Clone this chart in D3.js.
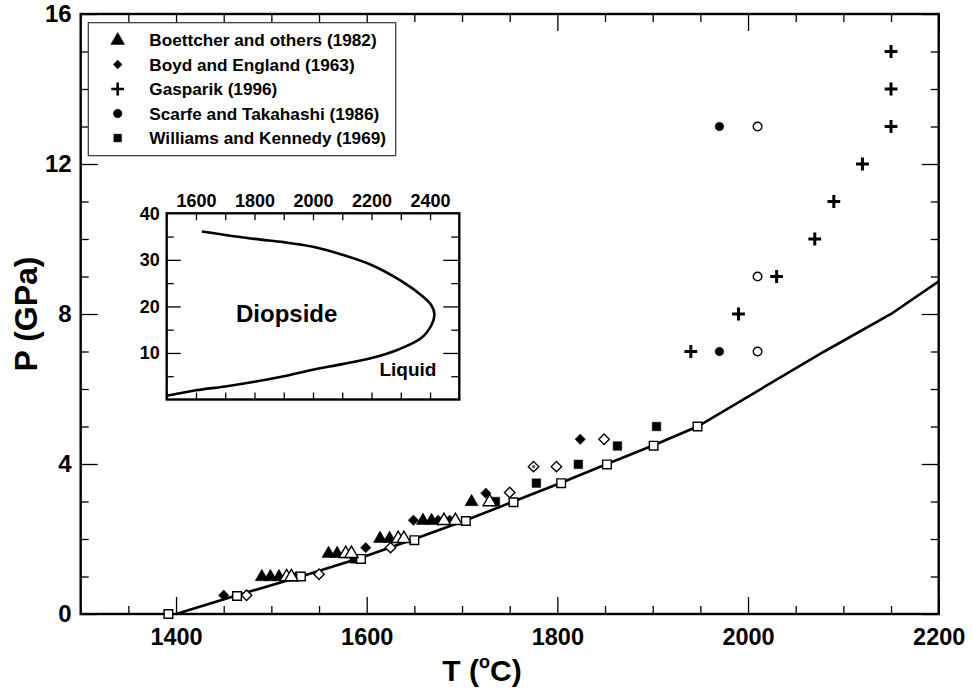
<!DOCTYPE html>
<html>
<head>
<meta charset="utf-8">
<script src="https://cdn.jsdelivr.net/npm/d3@7"></script>
<style>
  body { margin: 0; background: #fff; }
  text { font-family: "Liberation Sans", Arial, Helvetica, sans-serif; font-weight: bold; fill: #000; }
</style>
</head>
<body>
<svg width="972" height="688"></svg>
<script>
// melting curve of diopside (T in deg C, P in GPa)
const meltCurve = [[1400,0],[1464,0.5],[1531,1.0],[1594,1.5],[1650,2.0],[1704,2.5],[1754,3.0],
  [1804,3.5],[1852,4.0],[1901,4.5],[1947,5.0],[2080,7.0],[2150,8.0],[2200,8.87]];

// experiments: filled = crystals, open = liquid
const boettcherSolid = [[1490,1.0],[1499,1.0],[1508,1.0],[1560,1.62],[1569,1.62],[1614,2.02],[1624,2.02],
  [1659,2.5],[1668,2.5],[1710,3.0]];
const boettcherLiquid = [[1516,1.0],[1521,1.0],[1578,1.62],[1584,1.62],[1633,2.02],[1639,2.02],
  [1681,2.5],[1693,2.5],[1729,3.0]];
const boydSolid = [[1450,0.5],[1526,1.0],[1599,1.77],[1649,2.5],[1675,2.5],[1687,2.5],[1725,3.22],[1824,4.66]];
const boydLiquid = [[1474,0.5],[1550,1.06],[1625,1.77],[1750,3.24],[1799,3.93],[1849,4.66]];
const boydMixed = [[1775,3.93]];
const gasparik = [[1940,7],[1990,8],[2030,9],[2070,10],[2090,11],[2120,12],[2150,13],[2150,14],[2150,15]];
const scarfeSolid = [[1970,13],[1970,7]];
const scarfeLiquid = [[2010,13],[2010,9],[2010,7]];
const williamsSolid = [[1587,1.47],[1735,3.0],[1778,3.49],[1822,3.99],[1863,4.48],[1904,5.0]];
const williamsLiquid = [[1392,0],[1464,0.48],[1531,1.0],[1594,1.47],[1650,1.97],[1704,2.48],[1754,2.98],
  [1804,3.49],[1852,3.99],[1901,4.49],[1947,5.0]];

// inset: full melting curve
const insetCurve = [[1500,0.8],[1600,2.0],[1700,2.8],[1800,3.8],[1900,5.0],[2000,6.4],[2100,7.6],[2200,8.9],
  [2290,10.7],[2370,13.2],[2405,16.0],[2415,18.3],[2405,20.2],[2370,22.4],[2290,25.9],[2200,28.9],
  [2100,31.1],[2000,32.8],[1900,33.8],[1800,34.5],[1620,36.1]];

const legendLabels = ["Boettcher and others (1982)", "Boyd and England (1963)", "Gasparik (1996)",
  "Scarfe and Takahashi (1986)", "Williams and Kennedy (1969)"];
const xTicks = [1400, 1600, 1800, 2000, 2200];
const yTicks = [0, 4, 8, 12, 16];
const insetXTicks = [1600, 1800, 2000, 2200, 2400];
const insetYTicks = [10, 20, 30, 40];

const svg = d3.select("svg");
const x = d3.scaleLinear([1300, 2200], [80.7, 938.7]);
const y = d3.scaleLinear([0, 16], [614, 14]);

// symbol shapes
const shapes = {
  triangle: "M0,-7.2L6.6,4.2L-6.6,4.2Z",
  diamond: "M0,-5.2L5.2,0L0,5.2L-5.2,0Z",
  square: "M-4.3,-4.3H4.3V4.3H-4.3Z",
  plus: "M-6.4,0H6.4M0,-6.4V6.4",
  circle: d3.symbol(d3.symbolCircle, 58)()
};

function drawPoints(data, shape, filled, scaleFactor = 1) {
  svg.append("g")
    .selectAll("path")
    .data(data)
    .join("path")
    .attr("transform", d => `translate(${x(d[0])},${y(d[1])}) scale(${scaleFactor})`)
    .attr("d", shapes[shape])
    .attr("fill", shape === "plus" ? "none" : (filled ? "#000" : "#fff"))
    .attr("stroke", "#000")
    .attr("stroke-width", shape === "plus" ? 3 : (filled ? 0.5 : 1.4));
}

// ticks
function minorRange(a, b, step, majors) {
  return d3.range(a, b + 0.001, step).filter(v => !majors.includes(v));
}
const xMinor = minorRange(1300, 2200, 50, [1300, 1400, 1600, 1800, 2000, 2200]);
const yMinor = minorRange(0, 16, 1, [0, 4, 8, 12, 16]);

svg.append("g").attr("transform", "translate(0,614)")
  .call(d3.axisBottom(x).tickValues(xMinor).tickSize(-8).tickFormat(""));
svg.append("g").attr("transform", "translate(0,614)")
  .call(d3.axisBottom(x).tickValues(xTicks).tickSize(-17).tickPadding(14).tickFormat(d3.format("d")))
  .call(g => g.selectAll("text").attr("font-size", 23.5));
svg.append("g").attr("transform", "translate(0,14)")
  .call(d3.axisTop(x).tickValues(xMinor).tickSize(-8).tickFormat(""));
svg.append("g").attr("transform", "translate(0,14)")
  .call(d3.axisTop(x).tickValues(xTicks).tickSize(-17).tickFormat(""));

svg.append("g").attr("transform", "translate(80.7,0)")
  .call(d3.axisLeft(y).tickValues(yMinor).tickSize(-8).tickFormat(""));
svg.append("g").attr("transform", "translate(80.7,0)")
  .call(d3.axisLeft(y).tickValues(yTicks).tickSize(-17).tickPadding(9))
  .call(g => g.selectAll("text").attr("font-size", 24));
svg.append("g").attr("transform", "translate(938.7,0)")
  .call(d3.axisRight(y).tickValues(yMinor).tickSize(-8).tickFormat(""));
svg.append("g").attr("transform", "translate(938.7,0)")
  .call(d3.axisRight(y).tickValues(yTicks).tickSize(-17).tickFormat(""));

svg.selectAll(".domain").remove();
svg.selectAll(".tick line").attr("stroke", "#000").attr("stroke-width", 1.3);
svg.selectAll(".tick text").attr("fill", "#000").style("font-family", null);

svg.append("rect")
  .attr("x", x(1300)).attr("y", y(16))
  .attr("width", x(2200) - x(1300)).attr("height", y(0) - y(16))
  .attr("fill", "none").attr("stroke", "#000").attr("stroke-width", 2.4);

// melting curve
svg.append("path")
  .datum(meltCurve)
  .attr("d", d3.line(d => x(d[0]), d => y(d[1])))
  .attr("fill", "none").attr("stroke", "#000").attr("stroke-width", 2.6);

// data points
drawPoints(boydSolid, "diamond", true);
drawPoints(boydLiquid, "diamond", false);
drawPoints(boydMixed, "diamond", false);
svg.append("g").selectAll("circle").data(boydMixed).join("circle")
  .attr("cx", d => x(d[0])).attr("cy", d => y(d[1])).attr("r", 1.6).attr("fill", "#555");
drawPoints(williamsSolid, "square", true);
drawPoints(williamsLiquid, "square", false);
drawPoints(boettcherSolid, "triangle", true);
drawPoints(boettcherLiquid, "triangle", false);
drawPoints(gasparik, "plus", true);
drawPoints(scarfeSolid, "circle", true);
drawPoints(scarfeLiquid, "circle", false);

// axis titles
svg.append("text")
  .attr("x", 482).attr("y", 681)
  .attr("text-anchor", "middle").attr("font-size", 30)
  .call(t => {
    t.append("tspan").text("T (");
    t.append("tspan").attr("font-size", 18).attr("dy", -13).text("o");
    t.append("tspan").attr("dy", 13).text("C)");
  });
svg.append("text")
  .attr("transform", "translate(37,314) rotate(-90)")
  .attr("text-anchor", "middle").attr("font-size", 32)
  .text("P (GPa)");

// legend
const legendShapes = [["triangle", 1.05], ["diamond", 0.85], ["plus", 1], ["circle", 1], ["square", 0.9]];
const legend = svg.append("g");
legend.append("rect")
  .attr("x", 88.3).attr("y", 22.7).attr("width", 307.4).attr("height", 133)
  .attr("fill", "#fff").attr("stroke", "#333").attr("stroke-width", 1.2);
const rows = legend.selectAll("g.row")
  .data(legendLabels)
  .join("g")
  .attr("class", "row")
  .attr("transform", (d, i) => `translate(0,${40 + i * 24.5})`);
rows.append("path")
  .attr("transform", (d, i) => `translate(117.7,0) scale(${legendShapes[i][1]})`)
  .attr("d", (d, i) => shapes[legendShapes[i][0]])
  .attr("fill", (d, i) => legendShapes[i][0] === "plus" ? "none" : "#000")
  .attr("stroke", "#000")
  .attr("stroke-width", (d, i) => legendShapes[i][0] === "plus" ? 2.6 : 0.5);
rows.append("text")
  .attr("x", 149.3).attr("dy", "0.36em")
  .attr("font-size", 17.2)
  .text(d => d);

// inset
const ix = d3.scaleLinear([1500, 2500], [166.7, 459.3]);
const iy = d3.scaleLinear([0, 40], [399.5, 213.3]);
const inset = svg.append("g");
inset.append("rect")
  .attr("x", ix(1500)).attr("y", iy(40))
  .attr("width", ix(2500) - ix(1500)).attr("height", iy(0) - iy(40))
  .attr("fill", "#fff");

const ixMinor = d3.range(1600, 2401, 100);
const iyMinor = [5, 15, 25, 35];
inset.append("g").attr("transform", `translate(0,${iy(40)})`)
  .call(d3.axisTop(ix).tickValues(ixMinor).tickSize(-7).tickFormat(""));
inset.append("g").attr("transform", `translate(0,${iy(40)})`)
  .call(d3.axisTop(ix).tickValues(insetXTicks).tickSize(0).tickPadding(6).tickFormat(d3.format("d")))
  .call(g => g.selectAll("text").attr("font-size", 18));
inset.append("g").attr("transform", `translate(0,${iy(0)})`)
  .call(d3.axisBottom(ix).tickValues(ixMinor).tickSize(-7).tickFormat(""));
inset.append("g").attr("transform", `translate(${ix(1500)},0)`)
  .call(d3.axisLeft(iy).tickValues(iyMinor).tickSize(-7).tickFormat(""));
inset.append("g").attr("transform", `translate(${ix(1500)},0)`)
  .call(d3.axisLeft(iy).tickValues(insetYTicks).tickSize(-14).tickPadding(7))
  .call(g => g.selectAll("text").attr("font-size", 18));
inset.append("g").attr("transform", `translate(${ix(2500)},0)`)
  .call(d3.axisRight(iy).tickValues(iyMinor).tickSize(-8).tickFormat(""));
inset.append("g").attr("transform", `translate(${ix(2500)},0)`)
  .call(d3.axisRight(iy).tickValues([10, 20, 30]).tickSize(-16).tickFormat(""));

inset.selectAll(".domain").remove();
inset.selectAll(".tick line").attr("stroke", "#000").attr("stroke-width", 1.3);
inset.selectAll(".tick text").attr("fill", "#000").style("font-family", null);
inset.selectAll(".tick").filter(d => d === 40).select("line").remove();

inset.append("rect")
  .attr("x", ix(1500)).attr("y", iy(40))
  .attr("width", ix(2500) - ix(1500)).attr("height", iy(0) - iy(40))
  .attr("fill", "none").attr("stroke", "#000").attr("stroke-width", 2.4);

inset.append("path")
  .datum(insetCurve)
  .attr("d", d3.line(d => ix(d[0]), d => iy(d[1])).curve(d3.curveCatmullRom))
  .attr("fill", "none").attr("stroke", "#000").attr("stroke-width", 2.6);

inset.append("text")
  .attr("x", ix(1910)).attr("y", iy(18.5)).attr("dy", "0.36em")
  .attr("text-anchor", "middle").attr("font-size", 24)
  .text("Diopside");
inset.append("text")
  .attr("x", ix(2227)).attr("y", iy(5.0))
  .attr("font-size", 19)
  .text("Liquid");
</script>
</body>
</html>
